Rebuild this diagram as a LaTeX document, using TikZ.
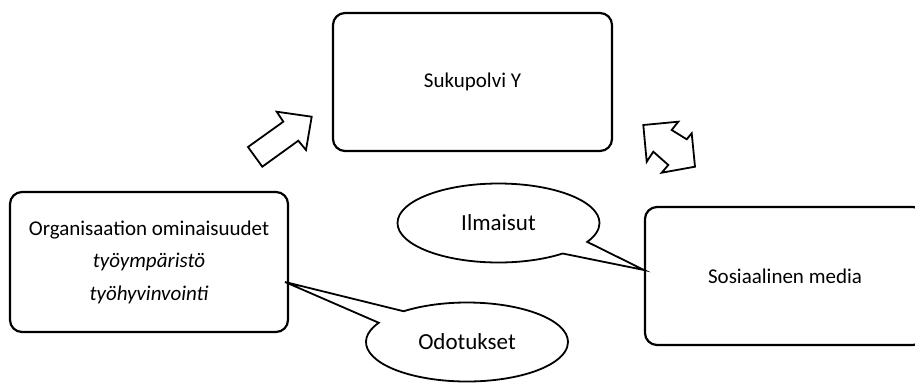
\documentclass[tikz,border=0pt]{standalone}
\usepackage{fontspec}
\setmainfont{Carlito}
\usetikzlibrary{shapes.callouts}
\begin{document}
\begin{tikzpicture}[x=1pt,y=-1pt,
  box/.style={draw=black, line width=2.2pt, rounded corners=12pt, inner sep=0pt,
    align=center, font=\fontsize{21}{32.5}\selectfont},
  bubble/.style={ellipse callout, draw=black, fill=white, line width=1.8pt, inner sep=0pt,
    minimum width=202pt, minimum height=79pt, callout pointer arc=22,
    font=\fontsize{23}{28}\selectfont},
  blockarrow/.style={draw=black, fill=white, line width=1.8pt, line join=miter}]
\path[use as bounding box, clip] (0,0) rectangle (915,383);
\node[box, minimum width=279pt, minimum height=138pt] (suku) at (472.5,82) {Sukupolvi Y};
\node[box, minimum width=278pt, minimum height=140pt] (org) at (149,262)
  {Organisaation ominaisuudet\\ \itshape työympäristö\\ \itshape työhyvinvointi};
\node[box, minimum width=280pt, minimum height=138pt] (some) at (785,276) {Sosiaalinen media};
\coordinate (tipI) at (644,270);
\coordinate (tipO) at (285,282);
\node[bubble, callout absolute pointer={(tipI)}] (ilm) at (498.5,223) {Ilmaisut};
\node[bubble, callout absolute pointer={(tipO)}] (odo) at (467,342) {Odotukset};
\draw[blockarrow] (248,147) -- (283.3,121.7) -- (276.7,111.7) -- (311.7,116.7)
  -- (306,150) -- (298.3,140.7) -- (262.3,166.7) -- cycle;
\draw[blockarrow] (643.3,125) -- (678.3,121.7) -- (671.7,130) -- (686.7,139.3)
  -- (691.7,133.3) -- (695,166.7) -- (661.7,172.7) -- (668.3,165)
  -- (653.3,151.7) -- (646.7,161.7) -- cycle;
\end{tikzpicture}
\end{document}
